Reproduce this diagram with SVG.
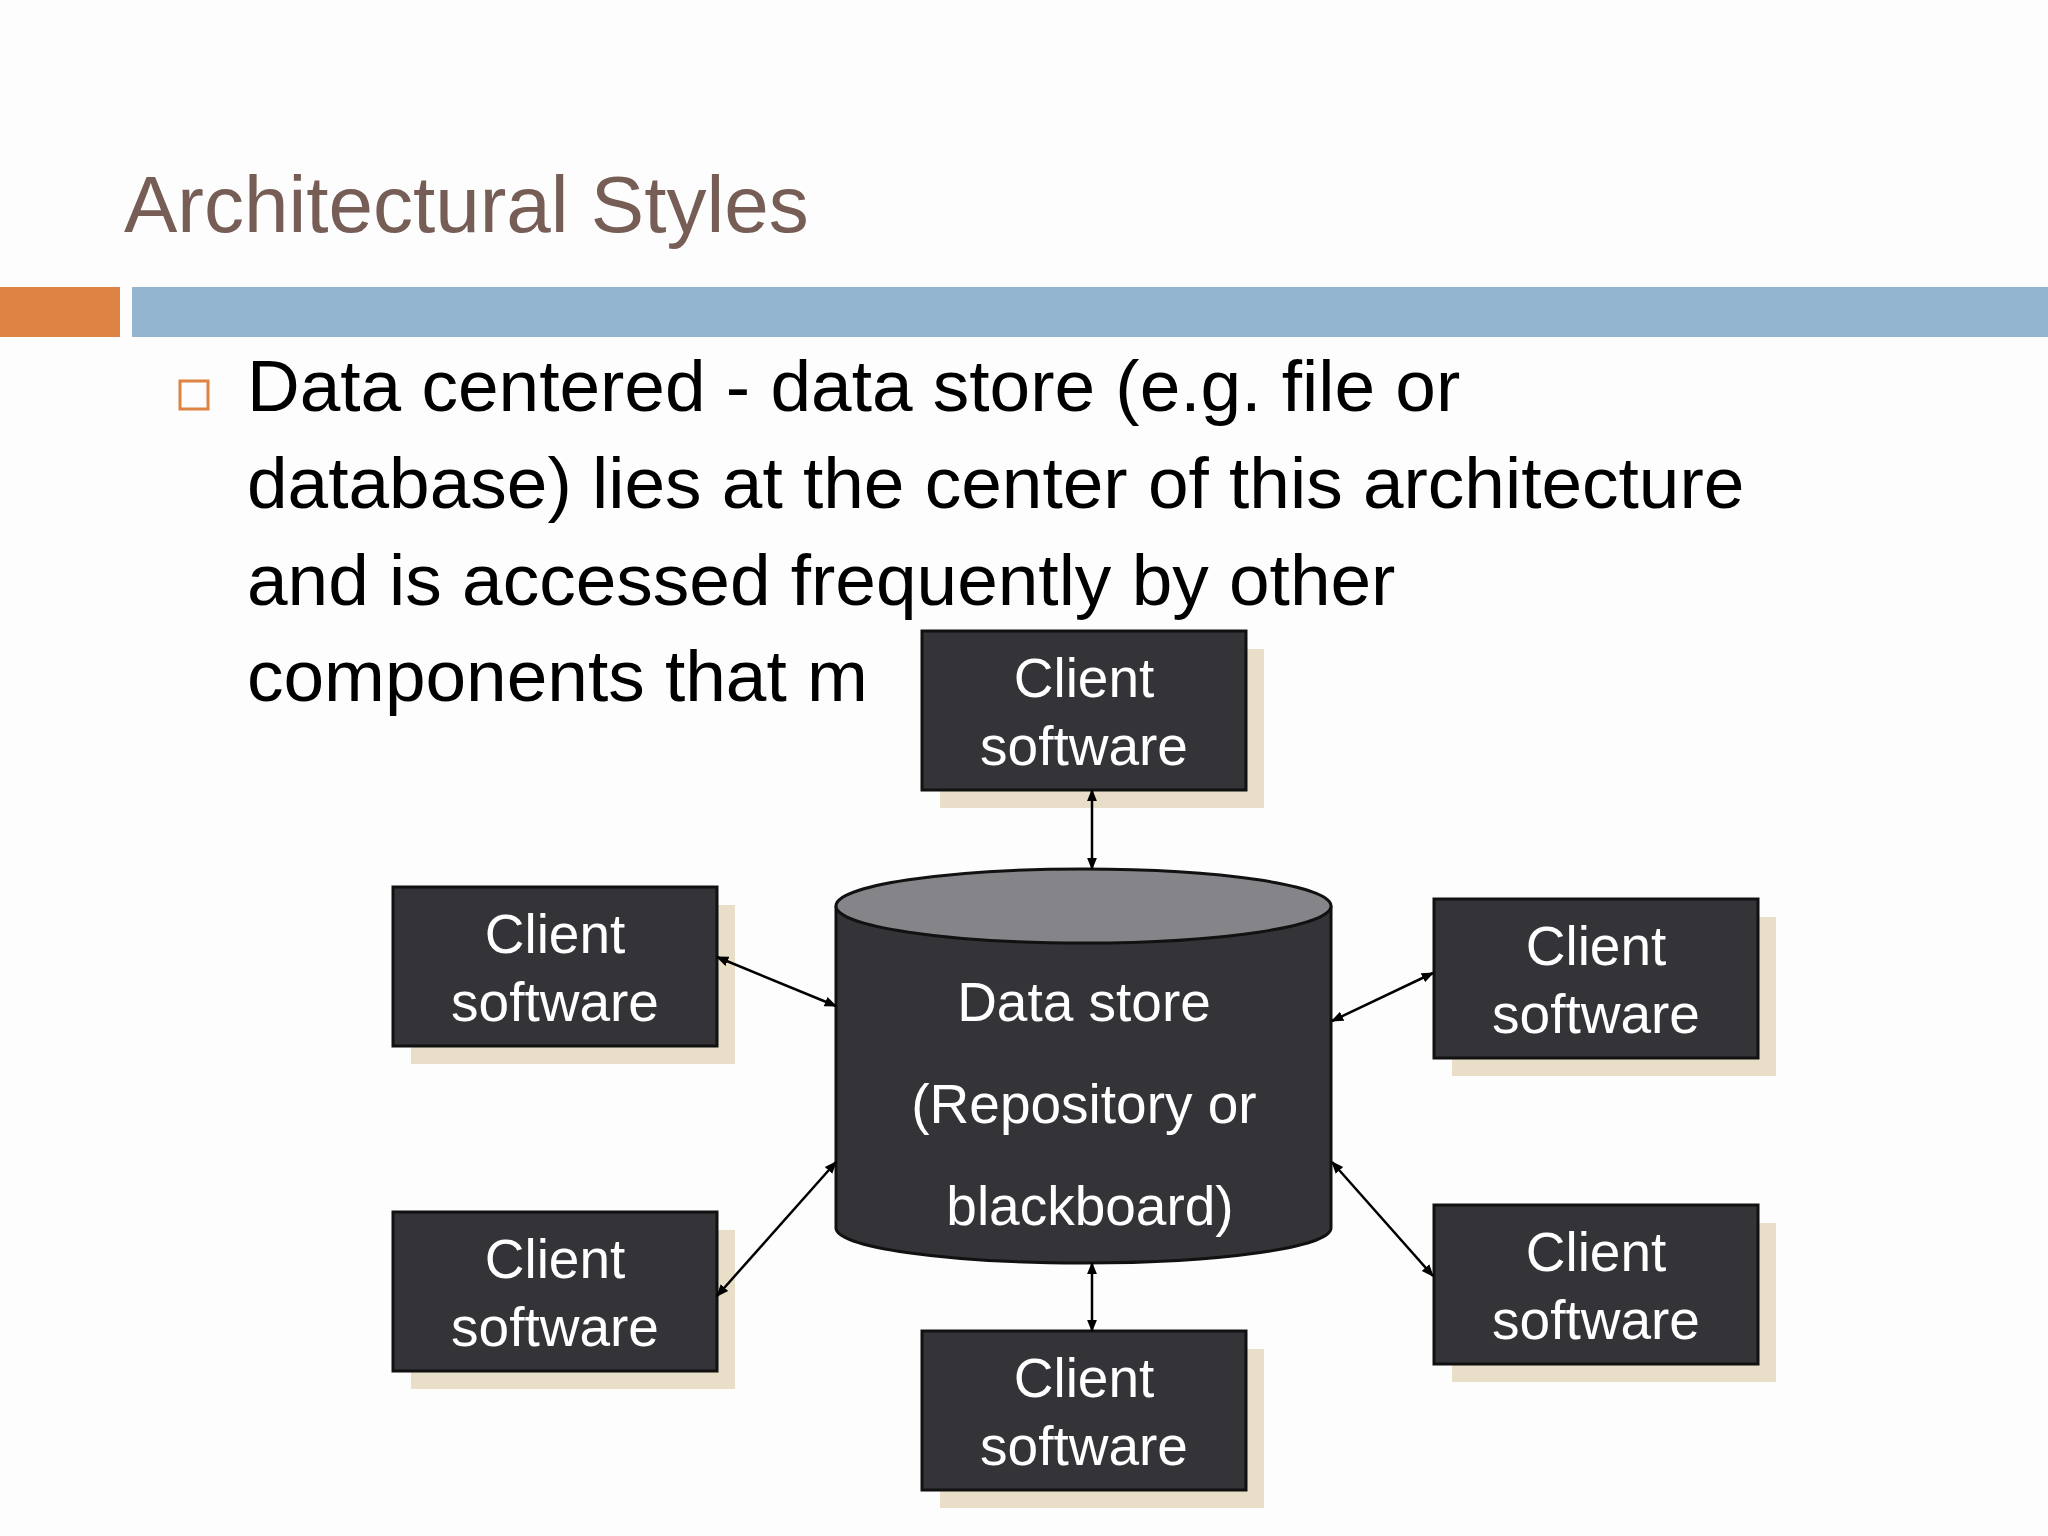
<svg xmlns="http://www.w3.org/2000/svg" width="2048" height="1536" viewBox="0 0 2048 1536">
<style>
.box{fill:#343337;stroke:#111;stroke-width:3}
.sh{fill:#e9dfc8}
.bt{font-family:"Liberation Sans",Arial,sans-serif;font-size:55px;fill:#fff;text-anchor:middle}
.body{font-family:"Liberation Sans",Arial,sans-serif;font-size:73px;fill:#000}
.con{stroke:#000;stroke-width:2.5;fill:none;marker-start:url(#a);marker-end:url(#a)}
</style>
<defs><marker id="a" viewBox="0 0 10 10" refX="9" refY="5" markerWidth="5" markerHeight="5" orient="auto-start-reverse"><path d="M0,1 L10,5 L0,9 z" fill="#000"/></marker></defs>
<rect width="2048" height="1536" fill="#fdfdfd"/>
<text x="124" y="232" font-family="Liberation Sans,Arial,sans-serif" font-size="80" fill="#765d55">Architectural Styles</text>
<rect x="0" y="287" width="120" height="50" fill="#df8345"/>
<rect x="132" y="287" width="1916" height="50" fill="#94b5cf"/>
<rect x="180" y="381" width="28" height="28" fill="none" stroke="#df8345" stroke-width="3"/>
<text class="body" x="247" y="411">Data centered - data store (e.g. file or</text>
<text class="body" x="247" y="508">database) lies at the center of this architecture</text>
<text class="body" x="247" y="605">and is accessed frequently by other</text>
<text class="body" x="247" y="701">components that m</text>
<g id="cyl">
<path d="M836,906 L836,1228 A247.5,35 0 0 0 1331,1228 L1331,906" fill="#343337" stroke="#111" stroke-width="3"/>
<ellipse cx="1083.5" cy="906" rx="247.5" ry="37" fill="#858488" stroke="#111" stroke-width="3"/>
<text class="bt" x="1084" y="1021">Data store</text>
<text class="bt" x="1084" y="1123">(Repository or</text>
<text class="bt" x="1090" y="1225">blackboard)</text>
</g>
<g id="c1"><rect class="sh" x="940" y="649" width="324" height="159"/><rect class="box" x="922" y="631" width="324" height="159"/><text class="bt" x="1084" y="697">Client</text><text class="bt" x="1084" y="765">software</text></g>
<g id="c2"><rect class="sh" x="411" y="905" width="324" height="159"/><rect class="box" x="393" y="887" width="324" height="159"/><text class="bt" x="555" y="953">Client</text><text class="bt" x="555" y="1021">software</text></g>
<g id="c3"><rect class="sh" x="1452" y="917" width="324" height="159"/><rect class="box" x="1434" y="899" width="324" height="159"/><text class="bt" x="1596" y="965">Client</text><text class="bt" x="1596" y="1033">software</text></g>
<g id="c4"><rect class="sh" x="411" y="1230" width="324" height="159"/><rect class="box" x="393" y="1212" width="324" height="159"/><text class="bt" x="555" y="1278">Client</text><text class="bt" x="555" y="1346">software</text></g>
<g id="c5"><rect class="sh" x="1452" y="1223" width="324" height="159"/><rect class="box" x="1434" y="1205" width="324" height="159"/><text class="bt" x="1596" y="1271">Client</text><text class="bt" x="1596" y="1339">software</text></g>
<g id="c6"><rect class="sh" x="940" y="1349" width="324" height="159"/><rect class="box" x="922" y="1331" width="324" height="159"/><text class="bt" x="1084" y="1397">Client</text><text class="bt" x="1084" y="1465">software</text></g>
<g id="connectors">
<line class="con" x1="1092" y1="790" x2="1092" y2="869"/>
<line class="con" x1="717" y1="957" x2="836" y2="1006"/>
<line class="con" x1="1332" y1="1021" x2="1433" y2="973"/>
<line class="con" x1="717" y1="1296" x2="836" y2="1162"/>
<line class="con" x1="1332" y1="1162" x2="1433" y2="1276"/>
<line class="con" x1="1092" y1="1263" x2="1092" y2="1331"/>
</g>
</svg>
